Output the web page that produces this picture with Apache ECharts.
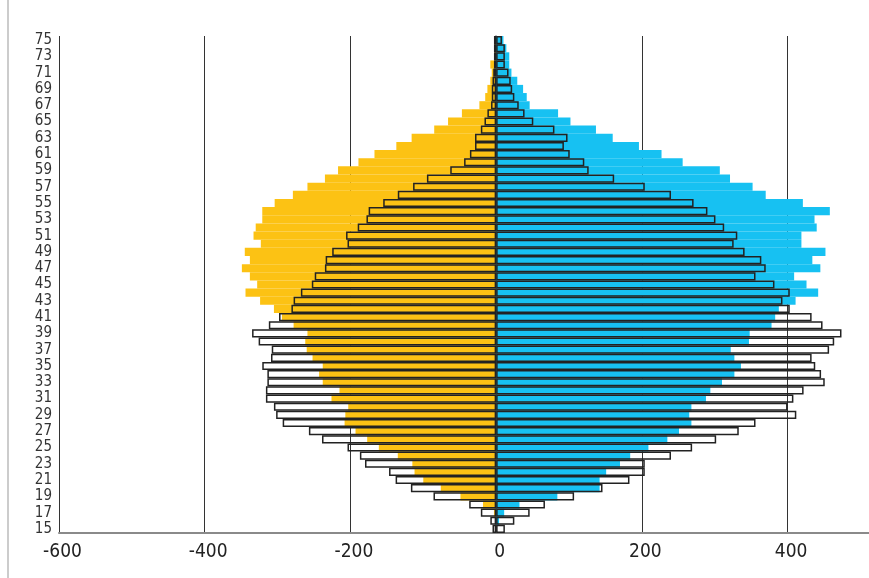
<!DOCTYPE html>
<html>
<head>
<meta charset="utf-8">
<script src="https://cdn.jsdelivr.net/npm/echarts/dist/echarts.min.js"></script>
<style>
html,body{margin:0;padding:0;background:#fff;}
#pyramid{width:869px;height:578px;}
</style>
</head>
<body>
<div id="pyramid"></div>
<script>
// ages 15..75, bottom to top
var ages = [];
for (var a = 15; a <= 75; a++) { ages.push(String(a)); }

var xTicks = [-600, -400, -200, 0, 200, 400];

// filled bars (yellow left, blue right)
var leftFill = [
	0,0,-3,-18,-49,-76,-100,-112,-115,-135,
	-161,-177,-193,-208,-207,-203,-226,-215,-238,-243,
	-238,-252,-260,-262,-259,-278,-294,-305,-324,-344,
	-328,-338,-349,-338,-345,-323,-333,-330,-321,-321,
	-304,-279,-259,-235,-217,-189,-167,-137,-116,-85,
	-66,-47,-23,-15,-12,-8,-6,-8,-2,-2,
	-1
];
var rightFill = [
	0,4,11,32,84,142,142,151,170,184,
	209,235,251,268,265,268,288,294,310,327,
	336,327,322,347,348,378,383,388,411,442,
	426,409,445,434,452,419,419,440,437,458,
	421,370,352,321,307,256,227,196,160,137,
	102,85,46,42,37,29,21,18,18,14,
	10
];
// outlined bars
var leftOutline = [
	-5,-8,-21,-37,-86,-117,-138,-147,-180,-187,
	-204,-239,-257,-293,-302,-305,-316,-316,-314,-314,
	-321,-309,-308,-326,-335,-312,-298,-281,-278,-268,
	-253,-249,-235,-234,-225,-204,-206,-190,-178,-175,
	-155,-135,-114,-95,-63,-44,-36,-29,-29,-21,
	-16,-12,-7,-6,-6,-5,-4,-3,-3,-3,
	-3
];
var rightOutline = [
	12,25,46,67,107,146,183,204,204,240,
	269,302,333,356,412,400,408,422,451,446,
	438,433,457,464,474,448,433,403,393,403,
	382,356,370,364,341,326,331,313,301,290,
	271,240,204,162,127,121,101,93,98,80,
	51,39,31,25,22,20,17,12,12,12,
	8
];

var fnt = "'Liberation Sans Narrow','DejaVu Sans Condensed','Noto Sans',sans-serif";

function outlineSeries(data){
	return {
		type: 'bar',
		data: data,
		barGap: '-100%',
		barCategoryGap: '0%',
		z: 3,
		itemStyle: { color: 'rgba(255,255,255,0)', borderColor: '#222', borderWidth: 1.5 },
		emphasis: { disabled: true }
	};
}
function fillSeries(data, col){
	return {
		type: 'bar',
		data: data,
		barGap: '-100%',
		barCategoryGap: '0%',
		z: 2,
		itemStyle: { color: col },
		emphasis: { disabled: true }
	};
}

var myChart = echarts.init(document.getElementById('pyramid'));
var option = {
	animation: false,
	grid: { left: 59, right: -6, top: 36, bottom: 45, containLabel: false, outerBoundsMode: 'none' },
	xAxis: {
		type: 'value',
		min: -600,
		max: 520,
		interval: 200,
		axisLine: { show: true, onZero: false, lineStyle: { color: '#8a8a8a', width: 2 } },
		axisTick: { show: false },
		splitLine: { show: true, lineStyle: { color: '#333', width: 1 } },
		axisLabel: {
			fontFamily: fnt, fontSize: 19, color: '#222', margin: 10,
			padding: [0, 0, 0, 7],
			formatter: function (v) { return xTicks.indexOf(v) >= 0 ? String(v) : ''; }
		}
	},
	yAxis: {
		type: 'category',
		data: ages,
		axisLine: { show: true, lineStyle: { color: '#666', width: 1.5 } },
		axisTick: { show: false },
		axisLabel: { interval: 1, fontFamily: fnt, fontSize: 15, color: '#333', margin: 7, padding: [0, 0, 7, 0] }
	},
	graphic: [{
		type: 'line',
		shape: { x1: 8, y1: 0, x2: 8, y2: 578 },
		style: { stroke: '#bbb', lineWidth: 1.5 }
	}],
	series: [
		fillSeries(leftFill, '#fcc214'),
		fillSeries(rightFill, '#17c1f2'),
		outlineSeries(leftOutline),
		outlineSeries(rightOutline)
	]
};
myChart.setOption(option);
</script>
</body>
</html>
